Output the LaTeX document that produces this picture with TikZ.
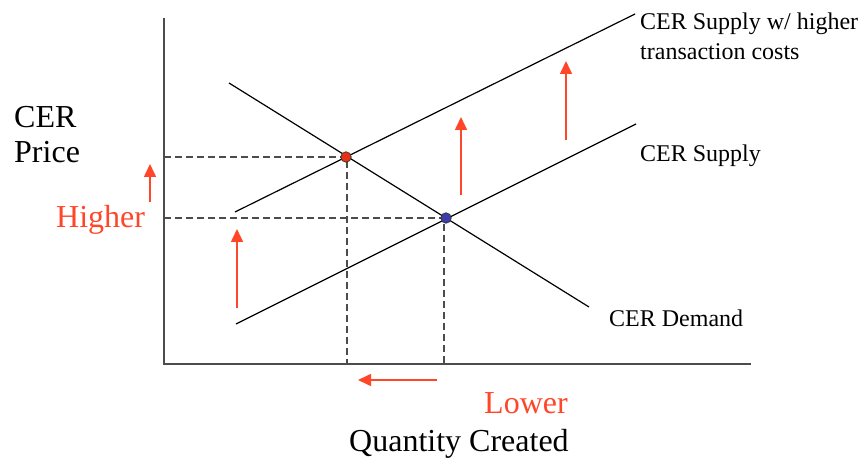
\documentclass[tikz,border=0pt]{standalone}
\usepackage{fontspec}
\setmainfont{Liberation Serif}
\usetikzlibrary{arrows.meta}
\definecolor{shiftred}{RGB}{255,70,40}
\definecolor{dotred}{RGB}{230,50,20}
\definecolor{dotblue}{RGB}{60,60,170}
\tikzset{
  curve/.style={line width=1.2pt, black},
  guide/.style={line width=1.4pt, dash pattern=on 7pt off 4pt, black!70},
  shiftarrow/.style={line width=1.6pt, shiftred, -{Triangle[width=12pt,length=13pt]}},
  eqdot/.style={circle, draw=black!80, line width=0.7pt, inner sep=0pt, minimum size=10.5pt}
}
\begin{document}
\begin{tikzpicture}[x=1pt, y=-1pt]
    \useasboundingbox (0,0) rectangle (863,462);

    % Axes
    \coordinate (top) at (164,18);
    \coordinate (origin) at (164,364);
    \coordinate (right) at (751,364);
    \draw[line width=1.8pt, black!70] (top) -- (origin) -- (right);

    % Curves
    \coordinate (S2a) at (235,212);
    \coordinate (S2b) at (635,14);
    \coordinate (S1a) at (236,324);
    \coordinate (S1b) at (636,124);
    \coordinate (Da) at (229,83);
    \coordinate (Db) at (589,307);
    \draw[curve] (S2a) -- (S2b);
    \draw[curve] (S1a) -- (S1b);
    \draw[curve] (Da) -- (Db);

    % Equilibria
    \coordinate (P2) at (164,157);
    \coordinate (P1) at (164,218);
    \coordinate (Q2) at (347,364);
    \coordinate (Q1) at (444,364);
    \coordinate (E2g) at (347,157);
    \coordinate (E1g) at (444,218);
    \draw[guide] (P2) -- (E2g) -- (Q2);
    \draw[guide] (P1) -- (E1g) -- (Q1);
    \node[eqdot, fill=dotred] (E2) at (346,157) {};
    \node[eqdot, fill=dotblue] (E1) at (446,218) {};

    % Shift arrows
    \coordinate (h1) at (150,202); \coordinate (h2) at (150,164);
    \coordinate (s1) at (237,308); \coordinate (s2) at (237,229);
    \coordinate (s3) at (461,195); \coordinate (s4) at (461,117);
    \coordinate (s5) at (566,140); \coordinate (s6) at (566,61);
    \coordinate (l1) at (437,380); \coordinate (l2) at (358,380);
    \draw[shiftarrow] (h1) -- (h2);
    \draw[shiftarrow] (s1) -- (s2);
    \draw[shiftarrow] (s3) -- (s4);
    \draw[shiftarrow] (s5) -- (s6);
    \draw[shiftarrow] (l1) -- (l2);

    % Labels
    \node[anchor=base west, inner sep=0pt, font=\fontsize{32}{32}\selectfont] (cer) at (14,128) {CER};
    \node[anchor=base west, inner sep=0pt, font=\fontsize{32}{32}\selectfont] (price) at (14,163) {Price};
    \node[anchor=base west, inner sep=0pt, shiftred, font=\fontsize{32}{32}\selectfont] (higher) at (56,228) {Higher};
    \node[anchor=base west, inner sep=0pt, shiftred, font=\fontsize{32}{32}\selectfont] (lower) at (484,414) {Lower};
    \node[anchor=base west, inner sep=0pt, font=\fontsize{32}{32}\selectfont] (qty) at (349,452) {Quantity Created};
    \node[anchor=base west, inner sep=0pt, font=\fontsize{24}{24}\selectfont] (s2lab) at (640,30) {CER Supply w/ higher};
    \node[anchor=base west, inner sep=0pt, font=\fontsize{24}{24}\selectfont] (s2lab2) at (640,60) {transaction costs};
    \node[anchor=base west, inner sep=0pt, font=\fontsize{24}{24}\selectfont] (s1lab) at (640,162) {CER Supply};
    \node[anchor=base west, inner sep=0pt, font=\fontsize{24}{24}\selectfont] (dlab) at (609,327) {CER Demand};

\end{tikzpicture}
\end{document}
